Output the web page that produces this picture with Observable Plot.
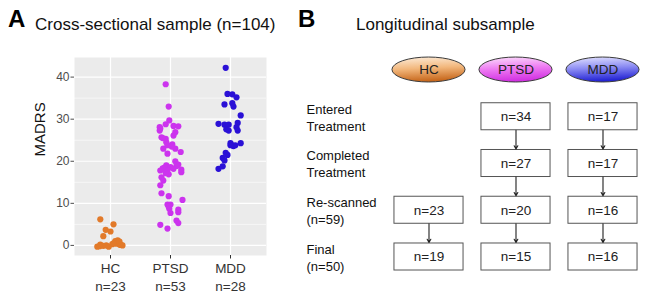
<!DOCTYPE html>
<html><head><meta charset="utf-8">
<script src="https://cdn.jsdelivr.net/npm/d3@7"></script>
<script src="https://cdn.jsdelivr.net/npm/@observablehq/plot@0.6"></script>
<style>
body{margin:0;background:#fff;font-family:"Liberation Sans",Arial,sans-serif;color:#111}
#wrap{position:relative;width:648px;height:295px;overflow:hidden;background:#fff}
.panel{position:absolute;top:0}
.lab{position:absolute;font-weight:bold;font-size:24px;line-height:24px;color:#000}
.title{position:absolute;font-size:17px;line-height:20px;color:#111;white-space:nowrap}
</style></head><body>
<div id="wrap">
  <div class="lab" style="left:8px;top:7px">A</div>
  <div class="title" style="left:35px;top:15px">Cross-sectional sample (n=104)</div>
  <div class="lab" style="left:298px;top:7px">B</div>
  <div class="title" style="left:356px;top:15px">Longitudinal subsample</div>
  <div id="pa" class="panel" style="left:0"></div>
  <div id="pb" class="panel" style="left:300px"></div>
</div>
<script>
// ---------- Panel A data ----------
const groups = ["HC", "PTSD", "MDD"];
const groupN = [23, 53, 28];
const groupColors = ["#E27A2A", "#CC33EE", "#2A10D6"];

const hcValues = [6.2, 5.0, 3.7, 3.3, 2.2, -0.3, 0.2, -0.1, 0.0, -0.3, 0.3, 0.6, 1.0, 1.2, 0.8, 0.2, 0.1, 0.4, 0.0, 0.5, -0.2, 0.9, 0.1];
const hcJitter = [-0.17, 0.05, -0.08, 0, -0.12, -0.22, -0.17, -0.12, -0.07, -0.03, 0.03, 0.07, 0.08, 0.12, 0.13, 0.15, 0.18, 0.1, 0.2, 0.05, -0.18, 0.15, 0.17];

const ptsdValues = [38.3, 33.0, 29.7, 28.8, 28.1, 27.3, 28.4, 28.3, 25.7, 25.3, 25.5, 26.1, 26.9, 23.0, 23.8, 24.0, 23.0, 22.2, 21.8, 20.0, 19.2, 19.0, 18.6, 18.5, 17.8, 17.8, 18.2, 18.0, 17.4, 16.9, 16.2, 15.4, 14.3, 12.4, 11.7, 10.8, 9.7, 9.7, 8.7, 8.5, 7.9, 7.7, 5.9, 5.3, 4.9, 4.0, 27.8, 24.5, 23.5, 18.3, 18.9, 17.2, 9.2];
const ptsdJitter = [-0.08, -0.03, -0.02, -0.08, -0.18, -0.18, 0.05, 0.13, -0.15, -0.08, -0.13, 0.05, 0.08, -0.12, -0.05, 0.03, 0.08, 0.17, -0.05, 0.08, 0.13, -0.07, 0, -0.1, -0.17, -0.05, 0.05, 0.18, 0.18, -0.03, -0.15, -0.12, -0.17, -0.15, -0.03, 0.2, -0.05, 0, -0.02, 0.13, 0.13, 0, 0.1, 0.13, -0.17, -0.05, -0.17, -0.07, 0.02, -0.13, 0.1, -0.08, -0.03];

const mddValues = [42.2, 36.0, 35.9, 35.2, 33.5, 33.8, 33.0, 30.9, 28.9, 28.7, 28.7, 29.1, 28.1, 27.6, 27.3, 27.3, 24.3, 23.8, 23.6, 23.8, 23.8, 24.3, 22.0, 21.5, 20.8, 20.2, 18.2, 18.8];
const mddJitter = [-0.08, -0.05, 0.03, 0.1, -0.1, 0.03, 0.05, 0.17, -0.2, -0.1, -0.03, 0.12, 0.1, -0.07, 0.12, -0.03, 0, 0.03, 0.05, 0.08, 0, 0.17, -0.08, -0.05, -0.13, -0.1, -0.2, -0.13];

const yTicks = [0, 10, 20, 30, 40];
const yMinor = [5, 15, 25, 35];

// ---------- Panel B data ----------
const stageLabels = ["Entered\nTreatment", "Completed\nTreatment", "Re-scanned\n(n=59)", "Final\n(n=50)"];
const hcCounts = [null, null, 23, 19];
const ptsdCounts = [34, 27, 20, 15];
const mddCounts = [17, 17, 16, 16];
const ovalGradients = [
  ["#FDEEDD", "#F2B77C", "#C8691E"],
  ["#FCE0FC", "#EE7CF2", "#D232E2"],
  ["#E6E6FF", "#8A8AF2", "#2424D4"]
];

const font = "'Liberation Sans', Arial, sans-serif";

// ---------- Panel A ----------
const allValues = [hcValues, ptsdValues, mddValues];
const allJitter = [hcJitter, ptsdJitter, mddJitter];
const points = [];
allValues.forEach((vals, gi) => vals.forEach((v, j) => points.push({pos: gi + 1, jit: allJitter[gi][j], v, color: groupColors[gi]})));

const plotA = Plot.plot({
  width: 290, height: 295,
  marginLeft: 74, marginRight: 24, marginTop: 57, marginBottom: 40,
  style: {fontFamily: font, background: "transparent", overflow: "visible"},
  x: {domain: [0.4, 3.6]},
  y: {domain: [-2.4, 44.66]},
  color: {type: "identity"},
  marks: [
    Plot.frame({fill: "#EBEBEB", stroke: null}),
    Plot.gridY(yMinor, {stroke: "#fff", strokeOpacity: 1, strokeWidth: 0.6}),
    Plot.gridY(yTicks, {stroke: "#fff", strokeOpacity: 1, strokeWidth: 1.2}),
    Plot.gridX([1, 2, 3], {stroke: "#fff", strokeOpacity: 1, strokeWidth: 1.2}),
    Plot.dot(points, {x: d => d.pos + d.jit, y: "v", r: 3.1, fill: "color", stroke: null}),
    Plot.axisY(yTicks, {tickSize: 3.5, tickPadding: 1.5, fontSize: 12, color: "#4D4D4D", label: null}),
    Plot.axisX([1, 2, 3], {tickSize: 3.5, tickPadding: 2, fontSize: 13.5, lineHeight: 1.28, color: "#333", label: null,
      tickFormat: i => groups[i - 1] + "\nn=" + groupN[i - 1]}),
    Plot.text(["MADRS"], {frameAnchor: "left", rotate: -90, dx: -34, fontSize: 15, fill: "#111"})
  ]
});
document.getElementById("pa").appendChild(plotA);

// ---------- Panel B ----------
const countsByGroup = [hcCounts, ptsdCounts, mddCounts];
const boxes = [];
const arrows = [];
countsByGroup.forEach((counts, col) => {
  counts.forEach((c, s) => {
    if (c != null) {
      boxes.push({col, row: s + 1, label: "n=" + c});
      if (s + 1 < counts.length && counts[s + 1] != null) arrows.push({col, from: s + 1, to: s + 2});
    }
  });
});
const ovals = groups.map((g, col) => ({col, row: 0, label: g}));
const stageRows = stageLabels.map((label, i) => ({row: i + 1, label}));

const bw = 0.397, bh = 0.289, ow = 0.42, oh = 0.267;

const plotB = Plot.plot({
  width: 348, height: 295,
  marginLeft: 6, marginRight: 0, marginTop: 69.5, marginBottom: 38.5,
  style: {fontFamily: font, background: "transparent", overflow: "visible"},
  x: {domain: [-1.408, 2.523], axis: null},
  y: {domain: [0, 4], reverse: true, axis: null},
  marks: [
    ...ovals.map((o, i) => Plot.rect([o], {
      x1: d => d.col - ow, x2: d => d.col + ow, y1: d => d.row - oh, y2: d => d.row + oh,
      rx: 100, fill: `url(#ovalGrad${i})`, stroke: "#3a3a3a", strokeWidth: 1
    })),
    Plot.text(ovals, {x: "col", y: "row", text: "label", fontSize: 13.5, fill: "#222"}),
    Plot.rect(boxes, {x1: d => d.col - bw, x2: d => d.col + bw, y1: d => d.row - bh, y2: d => d.row + bh,
      fill: "#fff", stroke: "#555", strokeWidth: 1}),
    Plot.text(boxes, {x: "col", y: "row", text: "label", fontSize: 13.5, fill: "#222"}),
    Plot.arrow(arrows, {x1: "col", x2: "col", y1: d => d.from + bh, y2: d => d.to - bh,
      stroke: "#222", strokeWidth: 1.1, headLength: 5, insetEnd: 1}),
    Plot.text(stageRows, {y: "row", text: "label", frameAnchor: "left", textAnchor: "start",
      fontSize: 13, lineHeight: 1.3, fill: "#111"})
  ]
});
// gradients for the ovals
const svgB = d3.select(plotB.tagName.toLowerCase() === "svg" ? plotB : plotB.querySelector("svg"));
const defs = svgB.insert("defs", ":first-child");
ovalGradients.forEach((stops, i) => {
  const lg = defs.append("linearGradient").attr("id", `ovalGrad${i}`).attr("x1", 0).attr("y1", 0).attr("x2", 0.15).attr("y2", 1);
  stops.forEach((c, k) => lg.append("stop").attr("offset", k / (stops.length - 1)).attr("stop-color", c));
});
document.getElementById("pb").appendChild(plotB);
</script>
</body></html>
